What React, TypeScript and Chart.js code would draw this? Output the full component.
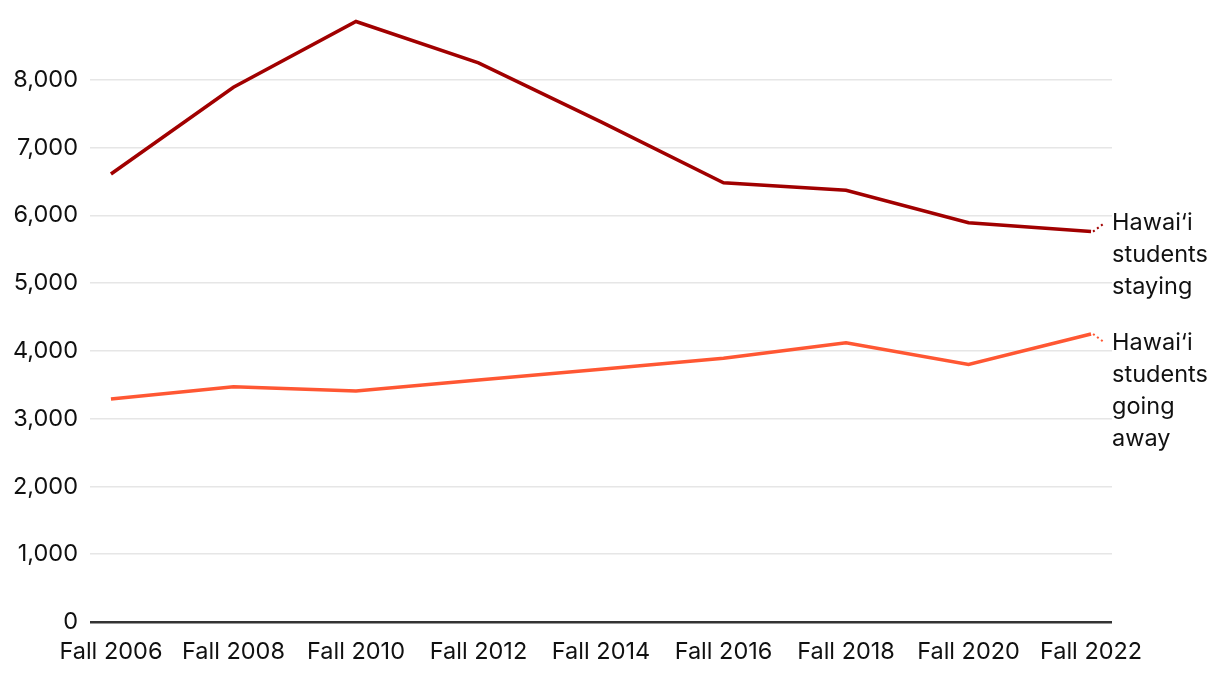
import React, { useEffect, useRef } from 'react';
import { Chart, registerables } from 'chart.js';

Chart.register(...registerables);

const categories = ['Fall 2006', 'Fall 2008', 'Fall 2010', 'Fall 2012', 'Fall 2014', 'Fall 2016', 'Fall 2018', 'Fall 2020', 'Fall 2022'];
const stayingValues = [6610, 7890, 8860, 8250, 7380, 6480, 6370, 5890, 5760];
const goingAwayValues = [3290, 3470, 3410, 3570, 3730, 3890, 4120, 3800, 4250];
const yTickValues = [0, 1000, 2000, 3000, 4000, 5000, 6000, 7000, 8000];
const stayingLabel = ['Hawai\u2018i', 'students', 'staying'];
const goingAwayLabel = ['Hawai\u2018i', 'students', 'going', 'away'];

const FONT = 'Inter, Lato, sans-serif';
const FONT_SIZE = 23.5;

export default function App() {
  const ref = useRef<HTMLCanvasElement | null>(null);

  useEffect(() => {
    const canvas = ref.current;
    if (!canvas) return;

    const endLabels = {
      id: 'endLabels',
      afterDatasetsDraw(chart: any) {
        const ctx = chart.ctx;
        const defs = [
          { idx: 0, lines: stayingLabel, dy: -9 },
          { idx: 1, lines: goingAwayLabel, dy: 9 },
        ];
        ctx.save();
        defs.forEach((d) => {
          const meta = chart.getDatasetMeta(d.idx);
          const pt = meta.data[meta.data.length - 1];
          const color = chart.data.datasets[d.idx].borderColor;
          ctx.strokeStyle = color;
          ctx.lineWidth = 2;
          ctx.setLineDash([2, 3]);
          ctx.beginPath();
          ctx.moveTo(pt.x + 2, pt.y);
          ctx.lineTo(pt.x + 14, pt.y + d.dy);
          ctx.stroke();
          ctx.setLineDash([]);
          ctx.fillStyle = '#111';
          ctx.font = `${FONT_SIZE}px ${FONT}`;
          ctx.textAlign = 'left';
          ctx.textBaseline = 'middle';
          d.lines.forEach((t, i) => {
            ctx.fillText(t, pt.x + 21, pt.y + d.dy + i * 32);
          });
        });
        ctx.restore();
      },
    };

    const chart = new Chart(canvas, {
      type: 'line',
      data: {
        datasets: [
          {
            label: 'Hawai‘i students staying',
            data: stayingValues.map((v, i) => ({ x: i, y: v })),
            borderColor: '#a10000',
            borderWidth: 3.5,
            pointRadius: 0,
            tension: 0,
          },
          {
            label: 'Hawai‘i students going away',
            data: goingAwayValues.map((v, i) => ({ x: i, y: v })),
            borderColor: '#ff5733',
            borderWidth: 3.5,
            pointRadius: 0,
            tension: 0,
          },
        ],
      },
      options: {
        animation: false,
        responsive: false,
        maintainAspectRatio: false,
        layout: { padding: { top: 12, right: 108, left: 0, bottom: 0 } },
        plugins: { legend: { display: false }, tooltip: { enabled: false } },
        scales: {
          x: {
            type: 'linear',
            min: -0.171,
            max: categories.length - 1 + 0.171,
            afterBuildTicks: (scale: any) => {
              scale.ticks = categories.map((_, i) => ({ value: i }));
            },
            afterFit: (scale: any) => {
              scale.height = 54;
              scale.paddingLeft = 0;
              scale.paddingRight = 0;
            },
            grid: { display: false },
            border: { display: false },
            ticks: {
              autoSkip: false,
              maxRotation: 0,
              padding: 8,
              color: '#111',
              font: { family: FONT, size: FONT_SIZE },
              callback: (v: any) => categories[Math.round(Number(v))] ?? '',
            },
          },
          y: {
            min: 0,
            max: 9000,
            afterBuildTicks: (scale: any) => {
              scale.ticks = yTickValues.map((v) => ({ value: v }));
            },
            afterFit: (scale: any) => {
              scale.width = 90;
              scale.paddingTop = 0;
              scale.paddingBottom = 0;
            },
            border: { display: false },
            grid: {
              drawTicks: false,
              color: (c: any) => (c.tick && c.tick.value === 0 ? '#333' : '#e6e6e6'),
              lineWidth: (c: any) => (c.tick && c.tick.value === 0 ? 2.5 : 1.5),
            },
            ticks: {
              padding: 12,
              color: '#111',
              font: { family: FONT, size: FONT_SIZE },
              callback: (v: any) => Number(v).toLocaleString('en-US'),
            },
          },
        },
      },
      plugins: [endLabels],
    });

    return () => chart.destroy();
  }, []);

  return (
    <div style={{ position: 'fixed', left: 0, top: 0, width: 1220, height: 676, background: '#fff' }}>
      <canvas ref={ref} width={1220} height={676} style={{ display: 'block' }} />
    </div>
  );
}
